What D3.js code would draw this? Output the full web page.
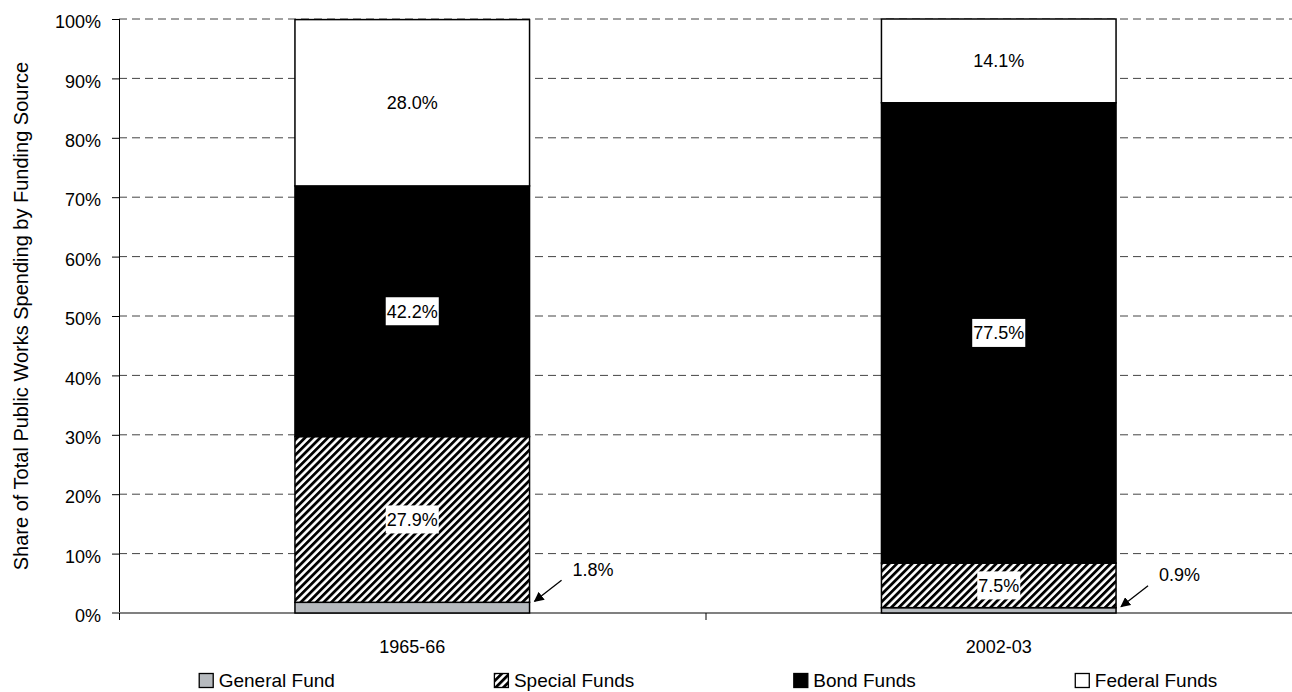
<!DOCTYPE html>
<html>
<head>
<meta charset="utf-8">
<script src="https://cdn.jsdelivr.net/npm/d3@7"></script>
<style>
  html, body { margin: 0; padding: 0; background: #fff; }
  svg { display: block; font-family: "Liberation Sans", Arial, sans-serif; }
</style>
</head>
<body>
<svg id="chart" width="1292" height="692"></svg>
<script>
// Fiscal years shown on the x axis
const years = ["1965-66", "2002-03"];
// Funding sources, bottom to top of each stack
const sources = ["General Fund", "Special Funds", "Bond Funds", "Federal Funds"];
// Percent share of spending by source, one array per source (order follows years)
const generalFund = [1.8, 0.9];
const specialFunds = [27.9, 7.5];
const bondFunds = [42.2, 77.5];
const federalFunds = [28.0, 14.1];
// Y axis tick values (percent)
const yTicks = [0, 10, 20, 30, 40, 50, 60, 70, 80, 90, 100];

const seriesValues = [generalFund, specialFunds, bondFunds, federalFunds];
const rows = years.map((yr, i) => {
  const r = { year: yr };
  sources.forEach((s, k) => { r[s] = seriesValues[k][i]; });
  return r;
});
const stacked = d3.stack().keys(sources)(rows);

const svg = d3.select("#chart");
const plotLeft = 119, plotRight = 1292, plotTop = 19, plotBottom = 613;

const x = d3.scaleBand().domain(years).range([plotLeft, plotRight]).paddingInner(0).paddingOuter(0);
const y = d3.scaleLinear().domain([0, 100]).range([plotBottom, plotTop]);
const barW = x.bandwidth() * 0.4;
const barX = d => x(d) + (x.bandwidth() - barW) / 2;

// Diagonal hatch for Special Funds
const defs = svg.append("defs");
const hatch = defs.append("pattern")
  .attr("id", "hatch")
  .attr("patternUnits", "userSpaceOnUse")
  .attr("width", 5.4).attr("height", 5.4)
  .attr("patternTransform", "rotate(45)");
hatch.append("rect").attr("width", 5.4).attr("height", 5.4).attr("fill", "#fff");
hatch.append("rect").attr("x", 0).attr("width", 2.8).attr("height", 5.4).attr("fill", "#000");

const fills = {
  "General Fund": "#b6babe",
  "Special Funds": "url(#hatch)",
  "Bond Funds": "#000",
  "Federal Funds": "#fff"
};

// Dashed gridlines
svg.append("g")
  .selectAll("line")
  .data(yTicks.filter(t => t > 0))
  .join("line")
  .attr("x1", plotLeft).attr("x2", plotRight)
  .attr("y1", d => y(d)).attr("y2", d => y(d))
  .attr("stroke", "#444")
  .attr("stroke-width", 1)
  .attr("stroke-dasharray", "8,5");

// Y axis
const yAxis = d3.axisLeft(y).tickValues(yTicks).tickFormat(d => d + "%").tickSize(7).tickPadding(11);
const gy = svg.append("g").attr("transform", `translate(${plotLeft},0)`).call(yAxis);
gy.select(".domain").attr("stroke", "#000").attr("d", `M0.5,${plotTop}V${plotBottom}`);
gy.selectAll(".tick line").attr("stroke", "#000");
gy.selectAll(".tick text")
  .attr("font-size", 18)
  .attr("font-family", "Liberation Sans, Arial, sans-serif")
  .attr("fill", "#000")
  .attr("dy", "0.48em");

// X axis (category boundaries)
const gx = svg.append("g");
gx.append("line")
  .attr("x1", plotLeft - 7).attr("x2", plotRight)
  .attr("y1", plotBottom).attr("y2", plotBottom)
  .attr("stroke", "#808080").attr("stroke-width", 2);
const bounds = [plotLeft, ...years.slice(1).map(d => x(d)), plotRight];
gx.selectAll("line.bound")
  .data(bounds)
  .join("line")
  .attr("class", "bound")
  .attr("x1", d => d + 0.5).attr("x2", d => d + 0.5)
  .attr("y1", plotBottom).attr("y2", plotBottom + 7)
  .attr("stroke", "#000");
gx.selectAll("text")
  .data(years)
  .join("text")
  .attr("x", d => x(d) + x.bandwidth() / 2)
  .attr("y", 653)
  .attr("text-anchor", "middle")
  .attr("font-size", 18)
  .text(d => d);

// Stacked bars
const layers = svg.append("g")
  .selectAll("g")
  .data(stacked)
  .join("g")
  .attr("fill", d => fills[d.key]);
layers.selectAll("rect")
  .data(d => d)
  .join("rect")
  .attr("x", d => barX(d.data.year))
  .attr("width", barW)
  .attr("y", d => y(d[1]))
  .attr("height", d => y(d[0]) - y(d[1]))
  .attr("stroke", "#000")
  .attr("stroke-width", 1.5);

// In-bar value labels on white boxes
const labelG = svg.append("g");
stacked.filter(s => s.key !== "General Fund").forEach(s => {
  s.forEach(d => {
    const v = d[1] - d[0];
    const cx = barX(d.data.year) + barW / 2;
    const cy = y((d[0] + d[1]) / 2);
    const g = labelG.append("g");
    const t = g.append("text")
      .attr("x", cx).attr("y", cy)
      .attr("dy", "0.36em")
      .attr("text-anchor", "middle")
      .attr("font-size", 18)
      .text(v.toFixed(1) + "%");
    const bb = t.node().getBBox();
    g.insert("rect", "text")
      .attr("x", bb.x - 1).attr("y", cy - 14)
      .attr("width", bb.width + 2).attr("height", 28)
      .attr("fill", "#fff");
  });
});

// Callouts for the thin General Fund slices
defs.append("marker")
  .attr("id", "arrow")
  .attr("viewBox", "0 0 10 10")
  .attr("refX", 9).attr("refY", 5)
  .attr("markerWidth", 10).attr("markerHeight", 10)
  .attr("markerUnits", "userSpaceOnUse")
  .attr("orient", "auto")
  .append("path").attr("d", "M0,0L10,5L0,10Z").attr("fill", "#000");

const gen = stacked.find(s => s.key === "General Fund");
gen.forEach(d => {
  const rx = barX(d.data.year) + barW;
  svg.append("line")
    .attr("x1", rx + 32).attr("y1", y(d[1]) - 22)
    .attr("x2", rx + 5).attr("y2", y(d[1]) - 1)
    .attr("stroke", "#000").attr("stroke-width", 1.3)
    .attr("marker-end", "url(#arrow)");
  svg.append("text")
    .attr("x", rx + 43).attr("y", y(d[1]) - 33)
    .attr("dy", "0.36em")
    .attr("font-size", 18)
    .text((d[1] - d[0]).toFixed(1) + "%");
});

// Y axis title
svg.append("text")
  .attr("transform", `translate(28,${(plotTop + plotBottom) / 2}) rotate(-90)`)
  .attr("text-anchor", "middle")
  .attr("font-size", 20)
  .text("Share of Total Public Works Spending by Funding Source");

// Legend: items spaced with equal gaps, centred under the plot
const legend = svg.append("g");
const items = sources.map(s => {
  const g = legend.append("g");
  g.append("rect")
    .attr("x", 0.5).attr("y", 673.5)
    .attr("width", 14).attr("height", 14)
    .attr("fill", fills[s])
    .attr("stroke", "#000").attr("stroke-width", 1.3);
  const t = g.append("text")
    .attr("x", 20).attr("y", 687)
    .attr("font-size", 19)
    .text(s);
  return { g, w: 20 + t.node().getComputedTextLength() };
});
const gap = 159;
const total = d3.sum(items, d => d.w) + gap * (items.length - 1);
let cursor = 708 - total / 2;
items.forEach(it => {
  it.g.attr("transform", `translate(${cursor},0)`);
  cursor += it.w + gap;
});
</script>
</body>
</html>
